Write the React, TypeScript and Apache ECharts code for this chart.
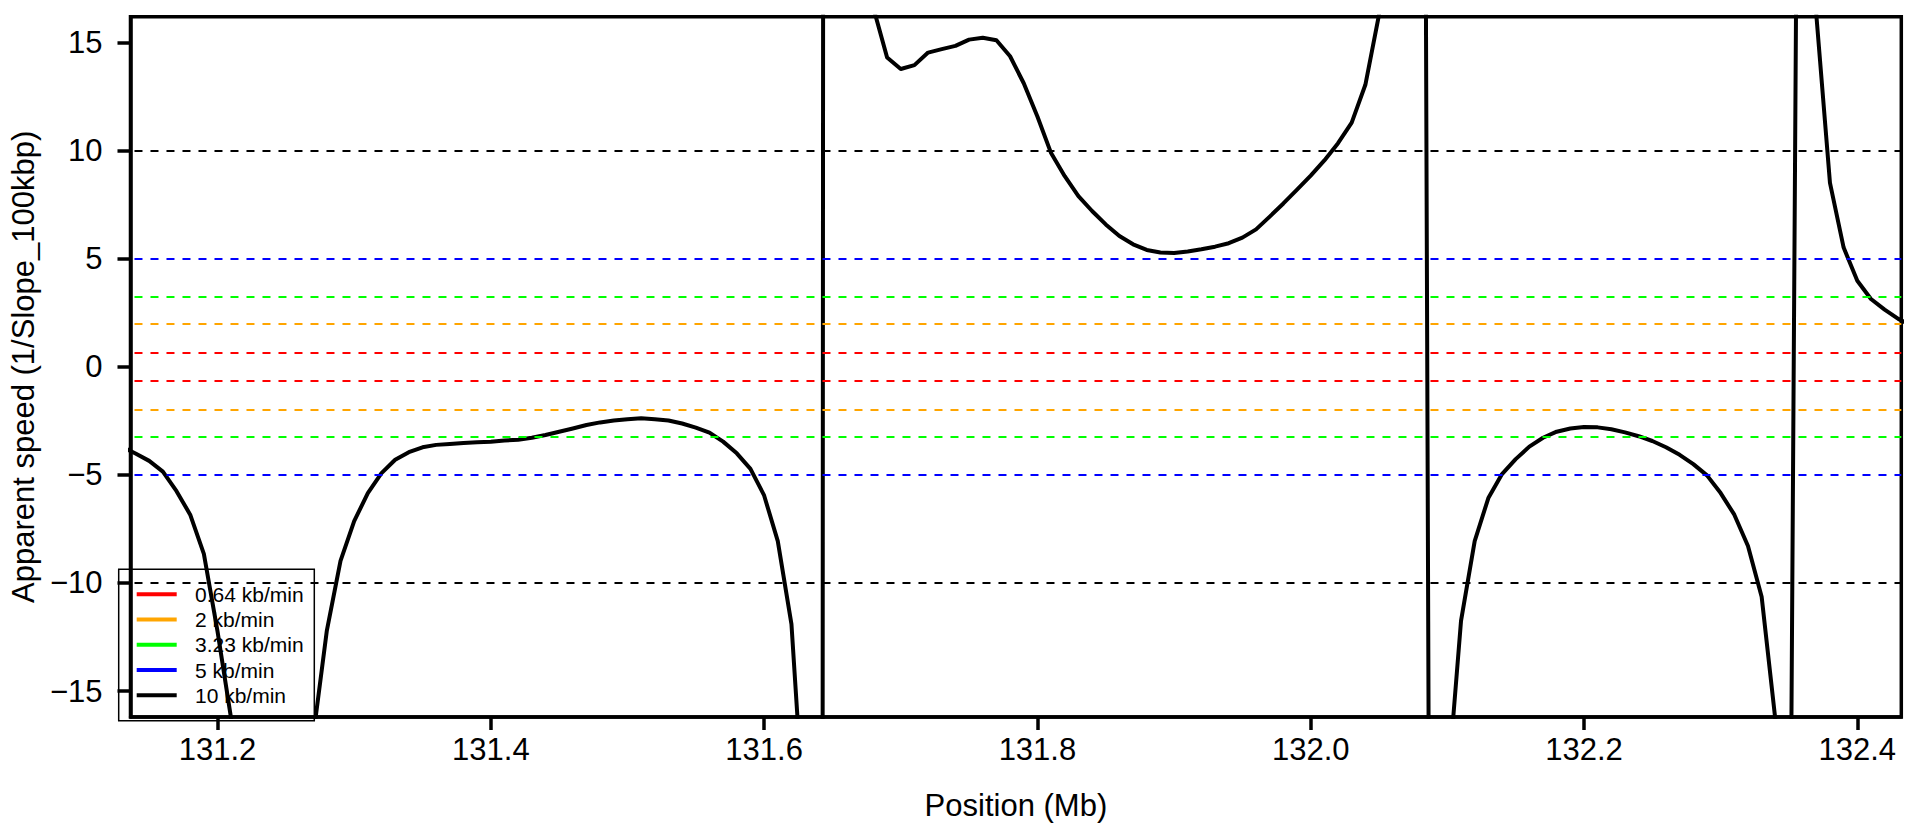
import React, { useEffect, useRef } from "react";
import * as echarts from "echarts";

// Position along the chromosome (Mb)
const positionMb = [
  131.13, 131.14, 131.15, 131.16, 131.17, 131.18, 131.19, 131.2, 131.21, 131.22,
  131.23, 131.24, 131.25, 131.26, 131.27, 131.28, 131.29, 131.3, 131.31, 131.32,
  131.33, 131.34, 131.35, 131.36, 131.37, 131.38, 131.39, 131.4, 131.41, 131.42,
  131.43, 131.44, 131.45, 131.46, 131.47, 131.48, 131.49, 131.5, 131.51, 131.52,
  131.53, 131.54, 131.55, 131.56, 131.57, 131.58, 131.59, 131.6, 131.61, 131.62,
  131.63, 131.64, 131.65, 131.66, 131.67, 131.68, 131.69, 131.7, 131.71, 131.72,
  131.73, 131.74, 131.75, 131.76, 131.77, 131.78, 131.79, 131.8, 131.81, 131.82,
  131.83, 131.84, 131.85, 131.86, 131.87, 131.88, 131.89, 131.9, 131.91, 131.92,
  131.93, 131.94, 131.95, 131.96, 131.97, 131.98, 131.99, 132.0, 132.01, 132.02,
  132.03, 132.04, 132.05, 132.06, 132.07, 132.08, 132.09, 132.1, 132.11, 132.12,
  132.13, 132.14, 132.15, 132.16, 132.17, 132.18, 132.19, 132.2, 132.21, 132.22,
  132.23, 132.24, 132.25, 132.26, 132.27, 132.28, 132.29, 132.3, 132.31, 132.32,
  132.33, 132.34, 132.35, 132.36, 132.37, 132.38, 132.39, 132.4, 132.41, 132.42,
  132.43, 132.44,
];

// Apparent speed (1/Slope_100kbp)
const apparentSpeed = [
  -3.7, -4.01, -4.35, -4.85, -5.75, -6.84, -8.65, -12.24, -16.3, -24,
  -35, -45, -35, -24, -17.1, -12.2, -8.98, -7.14, -5.84, -4.92,
  -4.3, -3.95, -3.72, -3.61, -3.57, -3.52, -3.49, -3.46, -3.41, -3.37,
  -3.28, -3.15, -3.0, -2.85, -2.69, -2.57, -2.48, -2.42, -2.38, -2.42,
  -2.48, -2.62, -2.81, -3.04, -3.46, -4.0, -4.72, -5.95, -8.06, -11.9,
  -21.7, -300, 700, 120, 35, 16.6, 14.31, 13.78, 13.96, 14.54,
  14.7, 14.85, 15.14, 15.23, 15.11, 14.37, 13.12, 11.58, 9.89, 8.82,
  7.9, 7.21, 6.59, 6.05, 5.67, 5.41, 5.29, 5.27, 5.34, 5.44,
  5.56, 5.72, 5.98, 6.36, 6.95, 7.56, 8.2, 8.85, 9.55, 10.35,
  11.3, 13.05, 16.3, 28, 60, 90, -80, -19.6, -11.75, -8.06,
  -6.07, -4.96, -4.27, -3.69, -3.28, -3.0, -2.85, -2.78, -2.8, -2.89,
  -3.03, -3.21, -3.43, -3.72, -4.07, -4.5, -5.02, -5.84, -6.84, -8.29,
  -10.64, -16.3, -34, 64, 16.3, 8.51, 5.52, 3.98, 3.14, 2.65,
  2.22, 1.9,
];

// Reference speeds (drawn at +/- value)
const refSpeeds = [0.64, 2, 3.23, 5, 10];
const refLabels = ["0.64 kb/min", "2 kb/min", "3.23 kb/min", "5 kb/min", "10 kb/min"];
const refColors = ["#FF0000", "#FFA500", "#00FF00", "#0000FF", "#000000"];

const xTicks = [131.2, 131.4, 131.6, 131.8, 132.0, 132.2, 132.4];
const yTicks = [-15, -10, -5, 0, 5, 10, 15];

const FONT = "'Liberation Sans', Arial, Helvetica, sans-serif";

export default function App() {
  const ref = useRef<HTMLDivElement>(null);

  useEffect(() => {
    if (!ref.current) return;
    const chart = echarts.init(ref.current, undefined, { renderer: "svg" });

    const gridLeft = 118.7;
    const gridTop = 16.7;
    const gridRight = 21.7;
    const gridBottom = 105.3;

    const refSeries = refSpeeds.map((v, i) => ({
      name: refLabels[i],
      type: "line",
      data: [],
      color: refColors[i],
      silent: true,
      markLine: {
        silent: true,
        symbol: ["none", "none"],
        label: { show: false },
        emphasis: { disabled: true },
        lineStyle: { color: refColors[i], type: [8, 8], width: 2, dashOffset: 12 },
        data: [{ yAxis: v }, { yAxis: -v }],
      },
      z: 4,
    }));

    const legendX = 118.7;
    const legendY = 569.3;
    const legendW = 195.6;
    const legendH = 151.4;
    const rowY0 = 594.3;
    const rowStep = 25.25;

    const legendGraphic: any[] = [
      {
        type: "rect",
        shape: { x: legendX, y: legendY, width: legendW, height: legendH },
        style: { fill: "none", stroke: "#000", lineWidth: 1.5 },
        z: 1,
        silent: true,
      },
    ];
    refLabels.forEach((label, i) => {
      const y = rowY0 + i * rowStep;
      legendGraphic.push({
        type: "line",
        shape: { x1: 136.7, y1: y, x2: 176.7, y2: y },
        style: { stroke: refColors[i], lineWidth: 4 },
        z: 1,
        silent: true,
      });
      legendGraphic.push({
        type: "text",
        x: 195,
        y: y,
        style: {
          text: label,
          fill: "#000",
          font: `21px ${FONT}`,
          textAlign: "left",
          textVerticalAlign: "middle",
          verticalAlign: "middle",
        },
        z: 1,
        silent: true,
      });
    });

    const fmtNum = (v: number) => (v < 0 ? "\u2212" + Math.abs(v) : String(v));

    const option: any = {
      animation: false,
      backgroundColor: "#ffffff",
      textStyle: { fontFamily: FONT },
      grid: {
        left: gridLeft,
        right: gridRight,
        top: gridTop,
        bottom: gridBottom,
        show: true,
        borderColor: "#000",
        borderWidth: 3.5,
        backgroundColor: "transparent",
      },
      xAxis: {
        type: "value",
        min: 131.1363,
        max: 132.4322,
        name: "Position (Mb)",
        nameLocation: "middle",
        nameGap: 73,
        nameTextStyle: { fontSize: 31, color: "#000", fontFamily: FONT },
        axisLine: { show: true, onZero: false, lineStyle: { color: "#000", width: 3.5 } },
        axisTick: {
          show: true,
          inside: false,
          length: 13,
          customValues: xTicks,
          lineStyle: { color: "#000", width: 3.5 },
        },
        axisLabel: {
          show: true,
          customValues: xTicks,
          formatter: (v: number) => v.toFixed(1),
          fontSize: 31,
          color: "#000",
          margin: 17,
          fontFamily: FONT,
        },
        splitLine: { show: false },
      },
      yAxis: {
        type: "value",
        min: -16.2,
        max: 16.2,
        name: "Apparent speed (1/Slope_100kbp)",
        nameLocation: "middle",
        nameGap: 76,
        nameRotate: 90,
        nameTextStyle: { fontSize: 31, color: "#000", fontFamily: FONT },
        axisLine: { show: true, onZero: false, lineStyle: { color: "#000", width: 3.5 } },
        axisTick: {
          show: true,
          inside: false,
          length: 13,
          customValues: yTicks,
          lineStyle: { color: "#000", width: 3.5 },
        },
        axisLabel: {
          show: true,
          customValues: yTicks,
          formatter: (v: number) => fmtNum(v),
          fontSize: 31,
          color: "#000",
          margin: 28,
          fontFamily: FONT,
        },
        splitLine: { show: false },
      },
      series: [
        {
          name: "Apparent speed",
          type: "line",
          data: positionMb.map((x, i) => [x, apparentSpeed[i]]),
          showSymbol: false,
          symbol: "none",
          clip: true,
          silent: true,
          lineStyle: { color: "#000", width: 4, join: "round" },
          itemStyle: { color: "#000" },
          z: 3,
        },
        ...refSeries,
      ],
      graphic: legendGraphic,
    };

    chart.setOption(option);
    return () => {
      chart.dispose();
    };
  }, []);

  return (
    <div
      ref={ref}
      style={{ position: "absolute", left: 0, top: 0, width: 1923, height: 826, background: "#fff" }}
    />
  );
}
